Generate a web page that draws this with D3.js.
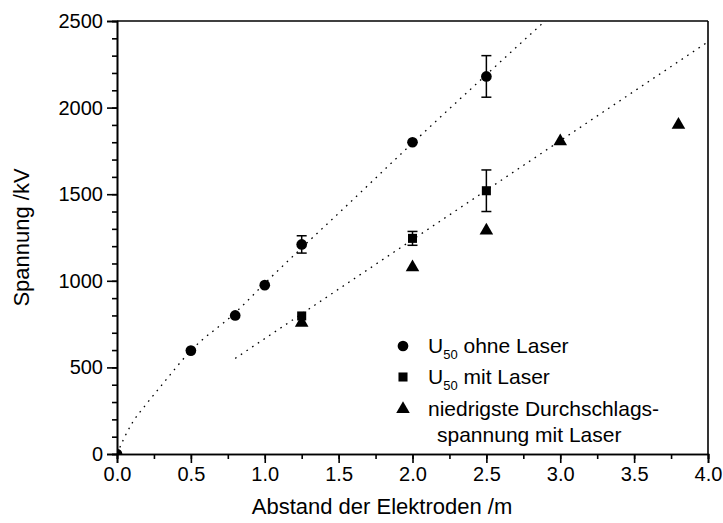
<!DOCTYPE html>
<html>
<head>
<meta charset="utf-8">
<script src="https://cdn.jsdelivr.net/npm/d3@7"></script>
<style>
  html, body { margin: 0; padding: 0; background: #fff; }
  svg { display: block; font-family: "Liberation Sans", Arial, sans-serif; }
</style>
</head>
<body>
<svg id="chart" width="723" height="523"></svg>
<script>
// U50 without laser: electrode gap (m), voltage (kV), error (kV)
const ohneDist = [0.0, 0.5, 0.8, 1.0, 1.25, 2.0, 2.5];
const ohneVolt = [0, 597, 800, 975, 1210, 1800, 2180];
const ohneErr  = [0, 0, 0, 0, 50, 0, 120];

// U50 with laser
const mitDist = [1.25, 2.0, 2.5];
const mitVolt = [797, 1245, 1520];
const mitErr  = [0, 40, 120];

// lowest breakdown voltage with laser
const minDist = [1.25, 2.0, 2.5, 3.0, 3.8];
const minVolt = [758, 1078, 1290, 1805, 1900];

// dotted trend curves, points along each curve
const trendOhneDist = [0.0, 0.05, 0.1, 0.2, 0.3, 0.5, 0.8, 1.0, 1.25, 1.5, 2.0, 2.5, 3.0];
const trendOhneVolt = [0, 95, 175, 290, 395, 597, 815, 985, 1190, 1390, 1795, 2190, 2580];
const trendMitDist = [0.8, 4.0];
const trendMitVolt = [552, 2380];

const xTicks = [0.0, 0.5, 1.0, 1.5, 2.0, 2.5, 3.0, 3.5, 4.0];
const yTicks = [0, 500, 1000, 1500, 2000, 2500];

const legendLabels = [
  { sub: true, text: " ohne Laser" },
  { sub: true, text: " mit Laser" },
  { sub: false, text: "niedrigste Durchschlags-" }
];

const svg = d3.select("#chart");
const W = 723, H = 523;
const m = { left: 117, right: 15, top: 21, bottom: 69 };
const pw = W - m.left - m.right, ph = H - m.top - m.bottom;

const x = d3.scaleLinear().domain([0, 4]).range([m.left, m.left + pw]);
const y = d3.scaleLinear().domain([0, 2500]).range([m.top + ph, m.top]);

svg.append("defs").append("clipPath").attr("id", "plot")
  .append("rect").attr("x", m.left).attr("y", m.top).attr("width", pw).attr("height", ph);

const fontSize = 20;

// axes
const axisStroke = 1.6;
const yMinor = svg.append("g").attr("transform", `translate(${m.left},0)`)
  .call(d3.axisLeft(y).tickValues(d3.range(0, 2501, 100)).tickSize(5).tickFormat(""));
const yMajor = svg.append("g").attr("transform", `translate(${m.left},0)`)
  .call(d3.axisLeft(y).tickValues(yTicks).tickSize(10).tickPadding(4).tickFormat(d3.format("d")));
const xMinor = svg.append("g").attr("transform", `translate(0,${m.top + ph})`)
  .call(d3.axisBottom(x).tickValues(d3.range(0, 4.01, 0.25)).tickSize(5).tickFormat(""));
const xMajor = svg.append("g").attr("transform", `translate(0,${m.top + ph})`)
  .call(d3.axisBottom(x).tickValues(xTicks).tickSize(9).tickPadding(4).tickFormat(d3.format(".1f")));

[yMinor, yMajor, xMinor, xMajor].forEach(g => {
  g.selectAll("path").attr("stroke", "#000").attr("stroke-width", axisStroke);
  g.selectAll("line").attr("stroke", "#000").attr("stroke-width", axisStroke);
  g.selectAll("text").attr("fill", "#000").style("font-size", fontSize + "px")
    .style("font-family", "Liberation Sans, Arial, sans-serif");
});

// top and right frame lines
svg.append("line").attr("x1", m.left).attr("x2", m.left + pw).attr("y1", m.top).attr("y2", m.top)
  .attr("stroke", "#000").attr("stroke-width", axisStroke);
svg.append("line").attr("x1", m.left + pw).attr("x2", m.left + pw).attr("y1", m.top).attr("y2", m.top + ph)
  .attr("stroke", "#000").attr("stroke-width", axisStroke);

// axis titles
svg.append("text").attr("x", 382).attr("y", 514).attr("text-anchor", "middle")
  .style("font-size", "22px").text("Abstand der Elektroden /m");
svg.append("text").attr("transform", `translate(29,${y(1250)}) rotate(-90)`).attr("text-anchor", "middle")
  .style("font-size", "22px").text("Spannung /kV");

const plot = svg.append("g").attr("clip-path", "url(#plot)");

// dotted trend curves
const line = d3.line().x(d => x(d[0])).y(d => y(d[1])).curve(d3.curveMonotoneX);
plot.append("path").datum(d3.zip(trendOhneDist, trendOhneVolt)).attr("d", line)
  .attr("fill", "none").attr("stroke", "#000").attr("stroke-width", 1.3).attr("stroke-dasharray", "1.6,5.2");
plot.append("path").datum(d3.zip(trendMitDist, trendMitVolt)).attr("d", line)
  .attr("fill", "none").attr("stroke", "#000").attr("stroke-width", 1.3).attr("stroke-dasharray", "1.6,5.2");

// error bars
function errorBars(dist, volt, err) {
  dist.forEach((d, i) => {
    if (!err[i]) return;
    const cx = x(d), y0 = y(volt[i] - err[i]), y1 = y(volt[i] + err[i]);
    const g = plot.append("g").attr("stroke", "#000").attr("stroke-width", 1.5);
    g.append("line").attr("x1", cx).attr("x2", cx).attr("y1", y0).attr("y2", y1);
    g.append("line").attr("x1", cx - 5).attr("x2", cx + 5).attr("y1", y0).attr("y2", y0);
    g.append("line").attr("x1", cx - 5).attr("x2", cx + 5).attr("y1", y1).attr("y2", y1);
  });
}
errorBars(ohneDist, ohneVolt, ohneErr);
errorBars(mitDist, mitVolt, mitErr);

const circleSym = d3.symbol().type(d3.symbolCircle).size(90);
const squareSym = d3.symbol().type(d3.symbolSquare).size(82);
const triSym = d3.symbol().type(d3.symbolTriangle).size(80);

plot.selectAll(".c").data(d3.zip(ohneDist, ohneVolt)).join("path")
  .attr("d", circleSym).attr("transform", d => `translate(${x(d[0])},${y(d[1])})`).attr("fill", "#000");
plot.selectAll(".s").data(d3.zip(mitDist, mitVolt)).join("path")
  .attr("d", squareSym).attr("transform", d => `translate(${x(d[0])},${y(d[1])})`).attr("fill", "#000");
plot.selectAll(".t").data(d3.zip(minDist, minVolt)).join("path")
  .attr("d", triSym).attr("transform", d => `translate(${x(d[0])},${y(d[1])})`).attr("fill", "#000");

// legend
const lg = svg.append("g");
const lx = 403, tx = 428;
const rows = [346, 377, 409];
const syms = [circleSym, squareSym, triSym];
rows.forEach((ry, i) => {
  lg.append("path").attr("d", syms[i]).attr("transform", `translate(${lx},${ry})`).attr("fill", "#000");
  const t = lg.append("text").attr("x", tx).attr("y", ry + 7).style("font-size", "21px");
  if (legendLabels[i].sub) {
    t.append("tspan").text("U");
    t.append("tspan").attr("dy", 6).style("font-size", "13px").text("50");
    t.append("tspan").attr("dy", -6).text(legendLabels[i].text);
  } else {
    t.text(legendLabels[i].text);
  }
});
lg.append("text").attr("x", tx + 9).attr("y", 442).style("font-size", "21px").text("spannung mit Laser");
</script>
</body>
</html>
